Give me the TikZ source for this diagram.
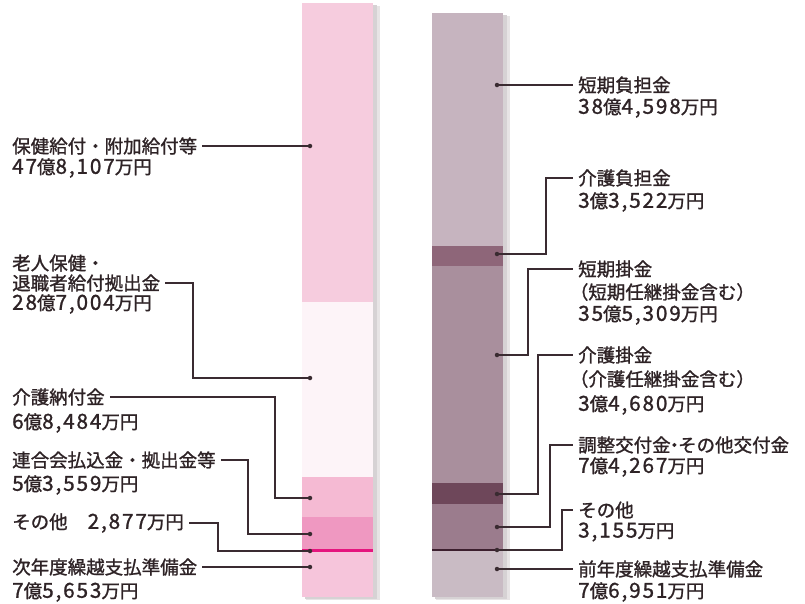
\documentclass[tikz,border=0pt]{standalone}
\usepackage{fontspec}
\setmainfont{Noto Sans CJK JP}[FakeBold=1.2]
\newfontfamily\numf{Noto Sans CJK JP}[Scale=1.12,LetterSpace=9,FakeBold=1.2]
\newcommand{\N}[1]{{\numf #1}}
\definecolor{txt}{HTML}{2E2326}
\definecolor{ln}{HTML}{3A2B31}
\definecolor{pA}{HTML}{F6CCDE}
\definecolor{pB}{HTML}{FDF4F8}
\definecolor{pC}{HTML}{F5BAD3}
\definecolor{pD}{HTML}{EF98C1}
\definecolor{pE}{HTML}{E5157E}
\definecolor{pF}{HTML}{F6C5DB}
\definecolor{mA}{HTML}{C6B4BF}
\definecolor{mB}{HTML}{8E6679}
\definecolor{mC}{HTML}{A98F9D}
\definecolor{mD}{HTML}{6E475A}
\definecolor{mE}{HTML}{9B7C8D}
\definecolor{mF}{HTML}{3C1F2E}
\definecolor{mG}{HTML}{C9BBC4}
\definecolor{shd}{HTML}{D6D2D4}
\begin{document}
\begin{tikzpicture}[x=1pt,y=-1pt,
  lbl/.style={anchor=west,inner sep=0pt,text=txt,font=\fontsize{18.5}{22}\selectfont},
  dot/.style={circle,fill=ln,inner sep=0pt,minimum size=4.5pt},
  conn/.style={draw=ln,line width=1.1pt}]
\useasboundingbox (0,0) rectangle (805,603);
\fill[white] (0,0) rectangle (805,603);
% shadows
\fill[shd!60] (306,6) rectangle (380,600);
\fill[shd] (305,5) rectangle (377,599);
\fill[shd!60] (436,16) rectangle (510,600);
\fill[shd] (435,15) rectangle (507,599);
% left bar
\fill[pA] (302,3) rectangle (373,302);
\fill[pB] (302,302) rectangle (373,477);
\fill[pC] (302,477) rectangle (373,517);
\fill[pD] (302,517) rectangle (373,549);
\fill[pE] (302,549) rectangle (373,552);
\fill[pF] (302,552) rectangle (373,597);
% right bar
\fill[mA] (432,13) rectangle (503,246);
\fill[mB] (432,246) rectangle (503,266);
\fill[mC] (432,266) rectangle (503,483);
\fill[mD] (432,483) rectangle (503,504);
\fill[mE] (432,504) rectangle (503,549);
\fill[mF] (432,549) rectangle (503,551);
\fill[mG] (432,551) rectangle (503,597);
% left labels
\node[lbl] (L1a) at (12,146) {保健給付・附加給付等};
\node[lbl] (L1b) at (12,168) {\N{47}億\N{8,107}万円};
\node[lbl] (L2a) at (12,263) {老人保健・};
\node[lbl] (L2b) at (12,283) {退職者給付拠出金};
\node[lbl] (L2c) at (12,304) {\N{28}億\N{7,004}万円};
\node[lbl] (L3a) at (12,397) {介護納付金};
\node[lbl] (L3b) at (12,423) {\N{6}億\N{8,484}万円};
\node[lbl] (L4a) at (12,460) {連合会払込金・拠出金等};
\node[lbl] (L4b) at (12,485) {\N{5}億\N{3,559}万円};
\node[lbl] (L5) at (12,523) {その他\hspace{20pt}\N{2,877}万円};
\node[lbl] (L6a) at (12,567) {次年度繰越支払準備金};
\node[lbl] (L6b) at (12,592) {\N{7}億\N{5,653}万円};
% left dots
\node[dot] (d1) at (310,146) {};
\node[dot] (d2) at (310,378) {};
\node[dot] (d3) at (310,498) {};
\node[dot] (d4) at (310,534) {};
\node[dot] (d5) at (310,551) {};
\node[dot] (d6) at (310,567) {};
% left connectors
\draw[conn] ([xshift=5pt]L1a.east) -- (d1.center);
\draw[conn] ([xshift=5pt]L2b.east) -| (193,378) -- (d2.center);
\draw[conn] ([xshift=5pt]L3a.east) -| (275,498) -- (d3.center);
\draw[conn] ([xshift=5pt]L4a.east) -| (248,534) -- (d4.center);
\draw[conn] ([xshift=5pt]L5.east) -| (218,551) -- (d5.center);
\draw[conn] ([xshift=5pt]L6a.east) -- (d6.center);
% right labels
\node[lbl] (R1a) at (578,85) {短期負担金};
\node[lbl] (R1b) at (578,108) {\N{38}億\N{4,598}万円};
\node[lbl] (R2a) at (578,178) {介護負担金};
\node[lbl] (R2b) at (578,202) {\N{3}億\N{3,522}万円};
\node[lbl] (R3a) at (578,269) {短期掛金};
\node[lbl] (R3b) at (578,292) {\hspace{-0.45em}（短期任継掛金含む）};
\node[lbl] (R3c) at (578,315) {\N{35}億\N{5,309}万円};
\node[lbl] (R4a) at (578,355) {介護掛金};
\node[lbl] (R4b) at (578,379) {\hspace{-0.45em}（介護任継掛金含む）};
\node[lbl] (R4c) at (578,405) {\N{3}億\N{4,680}万円};
\node[lbl] (R5a) at (578,445) {調整交付金\hspace{-0.3em}・\hspace{-0.3em}その他交付金};
\node[lbl] (R5b) at (578,467) {\N{7}億\N{4,267}万円};
\node[lbl] (R6a) at (578,510) {その他};
\node[lbl] (R6b) at (578,532) {\N{3,155}万円};
\node[lbl] (R7a) at (578,569) {前年度繰越支払準備金};
\node[lbl] (R7b) at (578,592) {\N{7}億\N{6,951}万円};
% right dots
\node[dot] (e1) at (497,85) {};
\node[dot] (e2) at (497,254) {};
\node[dot] (e3) at (497,355) {};
\node[dot] (e4) at (497,494) {};
\node[dot] (e5) at (497,527) {};
\node[dot] (e6) at (497,550) {};
\node[dot] (e7) at (497,569) {};
% right connectors
\draw[conn] (e1.center) -- ([xshift=-5pt]R1a.west);
\draw[conn] (e2.center) -| (546,178) -- ([xshift=-5pt]R2a.west);
\draw[conn] (e3.center) -| (528,269) -- ([xshift=-5pt]R3a.west);
\draw[conn] (e4.center) -| (538,355) -- ([xshift=-5pt]R4a.west);
\draw[conn] (e5.center) -| (550,445) -- ([xshift=-5pt]R5a.west);
\draw[conn] (e6.center) -| (562,510) -- ([xshift=-5pt]R6a.west);
\draw[conn] (e7.center) -- ([xshift=-5pt]R7a.west);
\end{tikzpicture}
\end{document}
